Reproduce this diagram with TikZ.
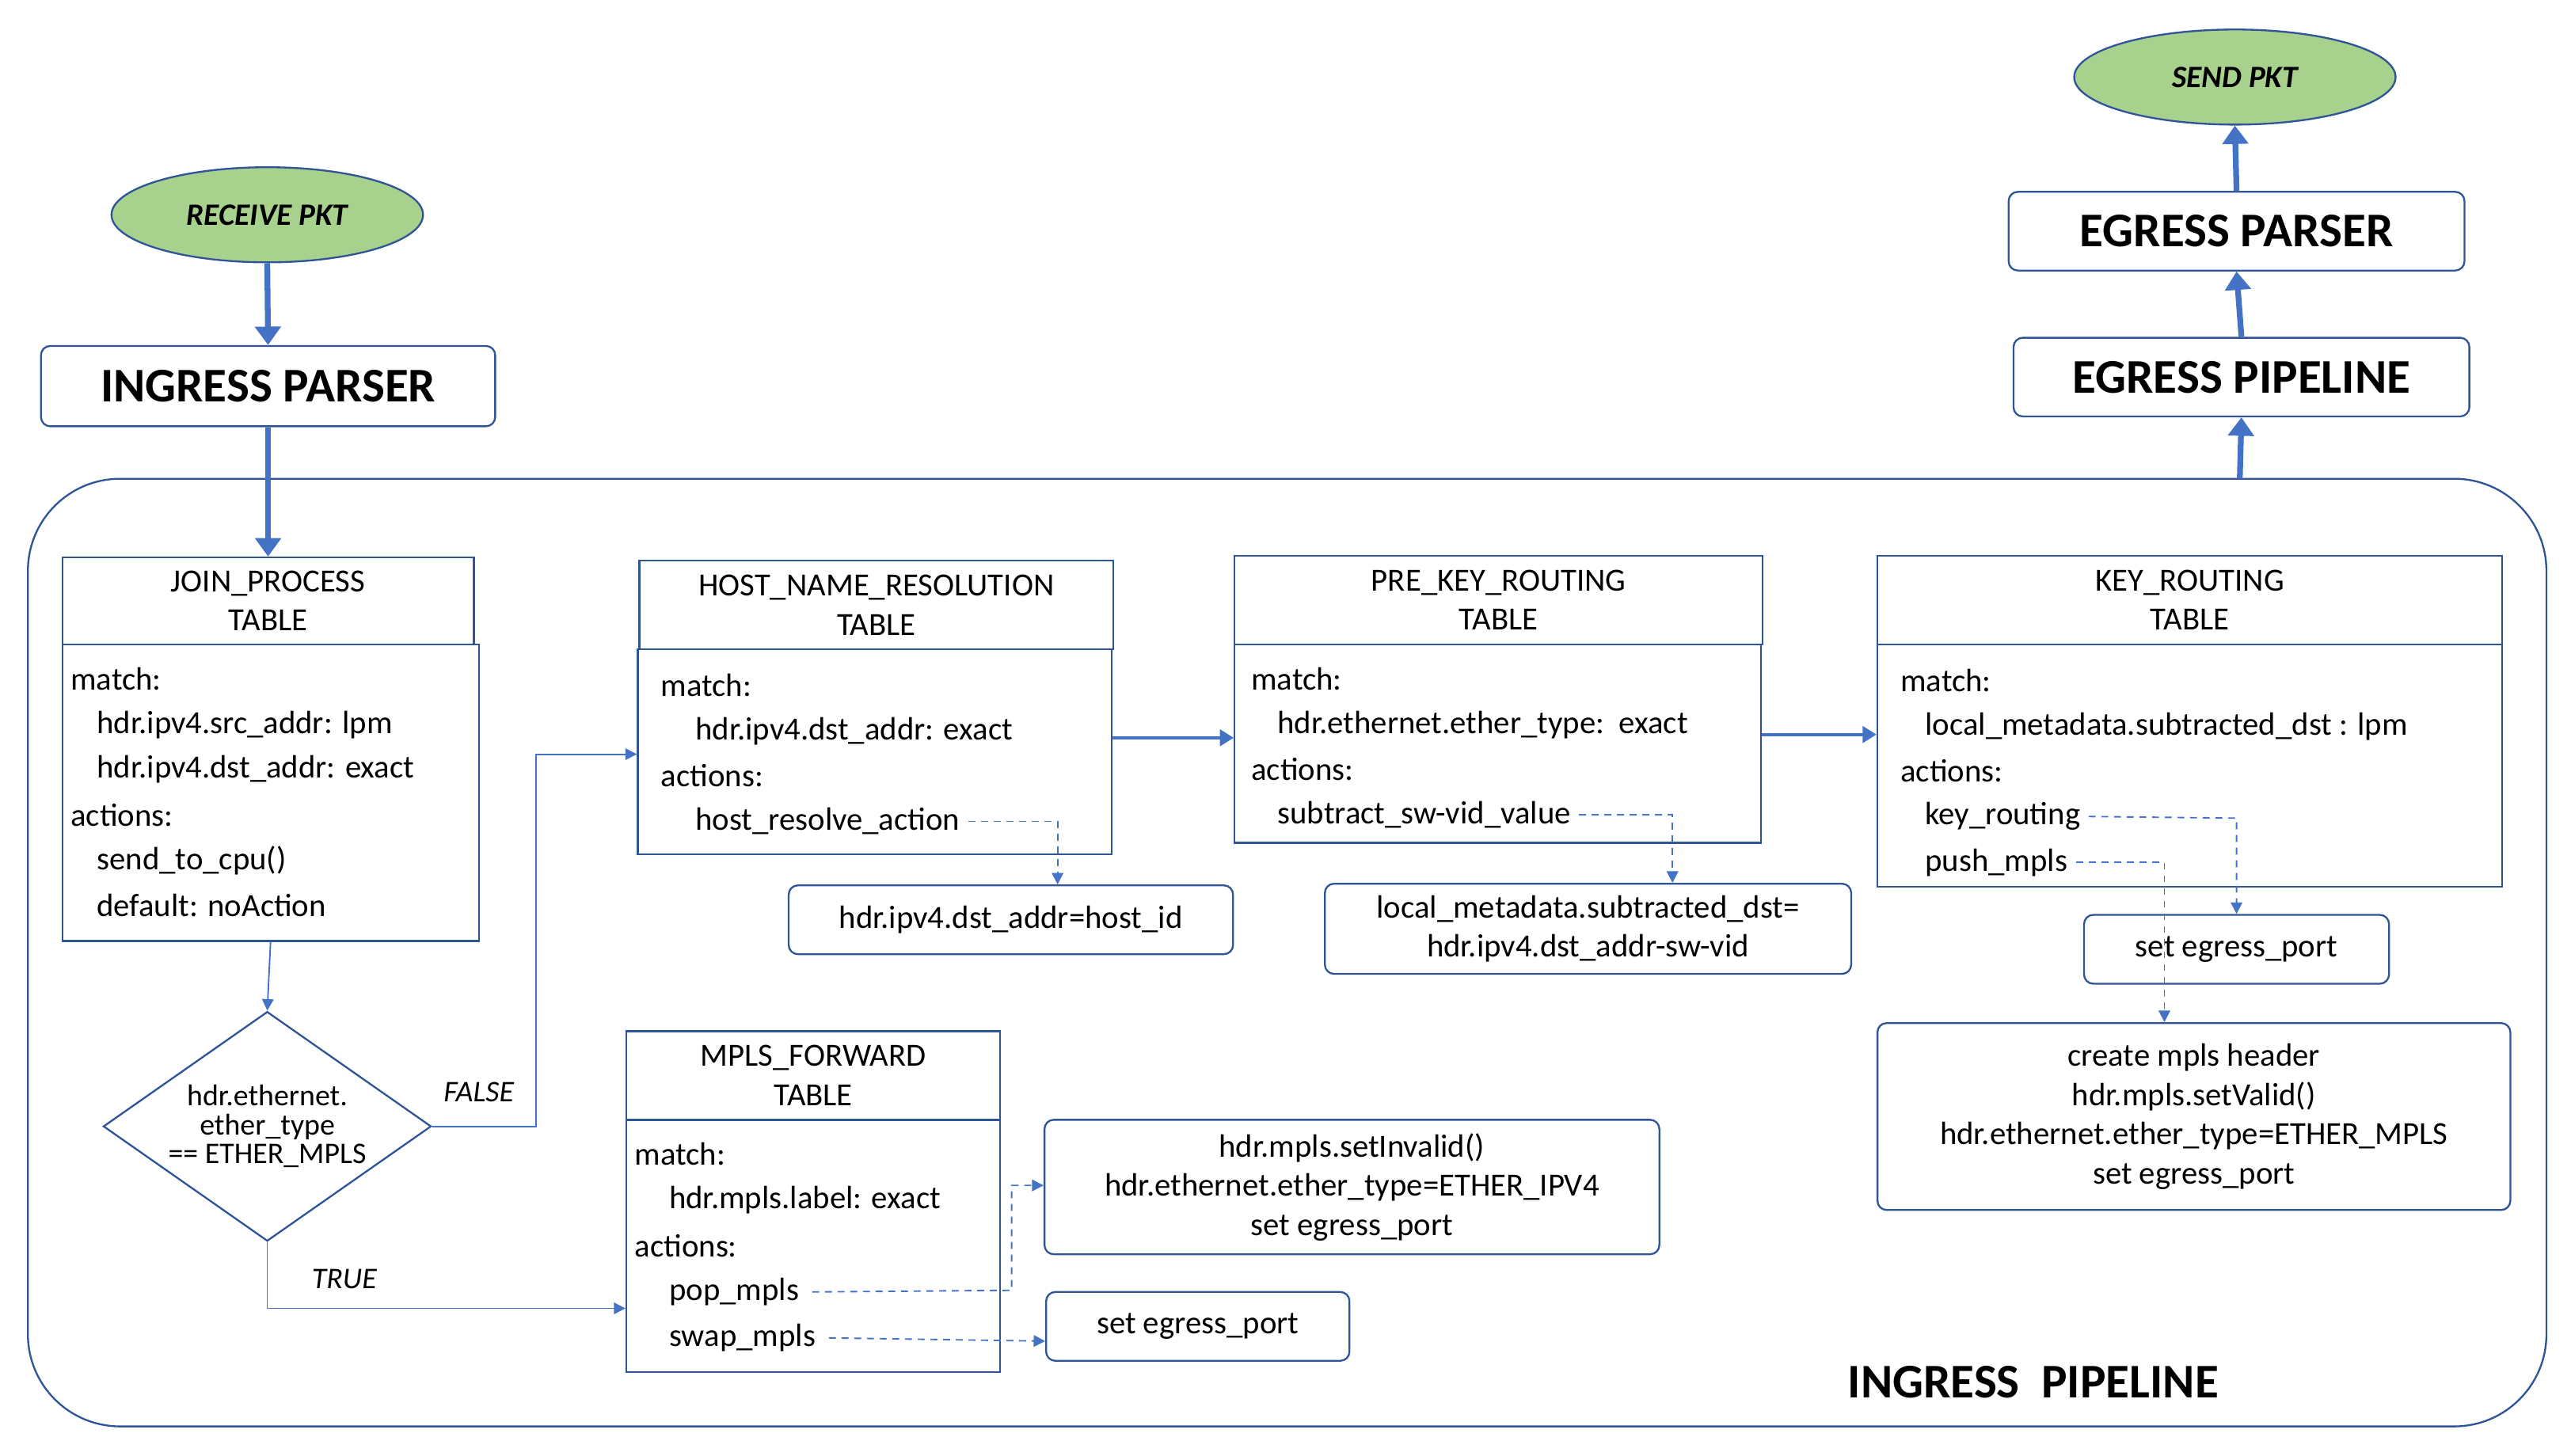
\documentclass[tikz,border=0pt]{standalone}
\usepackage{fontspec}
\setmainfont{Carlito}
\usetikzlibrary{shapes.geometric,arrows.meta}
\definecolor{bl}{HTML}{2F5597}
\definecolor{ar}{HTML}{4472C4}
\definecolor{gr}{HTML}{A9D18E}
\begin{document}
\begin{tikzpicture}[x=0.05cm,y=-0.05cm,
 txt/.style={font=\fontsize{28}{34}\selectfont,anchor=west,inner sep=0},
 big/.style={draw=bl,line width=1.6pt,rounded corners=8pt,font=\fontsize{42}{50}\selectfont\bfseries,inner sep=0},
 ell/.style={ellipse,draw=bl,line width=1.6pt,fill=gr,font=\fontsize{27}{32}\selectfont\bfseries\itshape,inner sep=0},
 box/.style={draw=bl,line width=1.6pt,inner sep=0},
 res/.style={draw=bl,line width=1.6pt,rounded corners=8pt,inner sep=0},
 ctr/.style={font=\fontsize{28}{34}\selectfont,align=center,inner sep=0},
 thick arr/.style={draw=ar,line width=5pt,-{Triangle[length=16pt,width=22pt]}},
 mid arr/.style={draw=ar,line width=3pt,-{Triangle[length=12pt,width=14pt]}},
 thin arr/.style={draw=ar,line width=1.3pt,-{Triangle[length=10pt,width=10pt]}},
 dash arr/.style={draw=ar,line width=1.3pt,dash pattern=on 6pt off 5pt,-{Triangle[length=10pt,width=10pt]}},
 lab/.style={font=\fontsize{26}{30}\selectfont\itshape,inner sep=0}]
\useasboundingbox (0,0) rectangle (1568,888);
% outer pipeline
\draw[draw=bl,line width=1.6pt,rounded corners=80pt] (17,292) rectangle (1553,870);
\node[font=\fontsize{42}{50}\selectfont\bfseries] (ip) at (1240,843) {INGRESS\ \ PIPELINE};
\coordinate (pipetop) at (1366,292);
% top nodes
\node[ell,minimum width=190*0.05cm,minimum height=58*0.05cm] (recv) at (163,131) {RECEIVE PKT};
\node[big,minimum width=277*0.05cm,minimum height=49*0.05cm] (ipar) at (163.5,235.5) {INGRESS PARSER};
\node[ell,minimum width=196*0.05cm,minimum height=58*0.05cm] (send) at (1363,47) {SEND PKT};
\node[big,minimum width=278*0.05cm,minimum height=48*0.05cm] (epar) at (1364,141) {EGRESS PARSER};
\node[big,minimum width=278*0.05cm,minimum height=48*0.05cm] (epip) at (1367,230) {EGRESS PIPELINE};
% JOIN
\node[box,minimum width=251*0.05cm,minimum height=53*0.05cm,ctr] (jh) at (163.5,366.5) {JOIN\_PROCESS\\TABLE};
\draw[bl,line width=1.6pt] (38,393) rectangle (292,574);
\node[box,draw=none,minimum width=254*0.05cm,minimum height=181*0.05cm] (jb) at (165,483.5) {};
\node[txt] at (43,414) {match:};
\node[txt] at (59,442) {hdr.ipv4.src\_addr: lpm};
\node[txt] at (59,469) {hdr.ipv4.dst\_addr: exact};
\node[txt] at (43,497) {actions:};
\node[txt] at (59,525) {send\_to\_cpu()};
\node[txt] at (59,552) {default: noAction};
% HOST
\node[box,minimum width=289*0.05cm,minimum height=54*0.05cm,ctr] (hh) at (534.5,369) {HOST\_NAME\_RESOLUTION\\TABLE};
\node[box,minimum width=289*0.05cm,minimum height=125*0.05cm] (hb) at (533.5,458.5) {};
\node[txt] at (403,418) {match:};
\node[txt] at (424,446) {hdr.ipv4.dst\_addr: exact};
\node[txt] at (403,473) {actions:};
\node[txt] (hra) at (424,501) {host\_resolve\_action};
% PRE KEY
\node[box,minimum width=322*0.05cm,minimum height=54*0.05cm,ctr] (ph) at (914,366) {PRE\_KEY\_ROUTING\\TABLE};
\node[box,minimum width=321*0.05cm,minimum height=121*0.05cm] (pb) at (913.5,453.5) {};
\node[txt] at (763,414) {match:};
\node[txt] at (779,442) {hdr.ethernet.ether\_type:\ \ exact};
\node[txt] at (763,469) {actions:};
\node[txt] (ssv) at (779,497) {subtract\_sw-vid\_value};
% KEY
\node[box,minimum width=381*0.05cm,minimum height=54*0.05cm,ctr] (kh) at (1335.5,366) {KEY\_ROUTING\\TABLE};
\node[box,minimum width=381*0.05cm,minimum height=148*0.05cm] (kb) at (1335.5,467) {};
\node[txt] at (1159,415) {match:};
\node[txt] at (1174,443) {local\_metadata.subtracted\_dst : lpm};
\node[txt] at (1159,470) {actions:};
\node[txt] (kr) at (1174,498) {key\_routing};
\node[txt] (pm) at (1174,526) {push\_mpls};
% MPLS
\node[box,minimum width=228*0.05cm,minimum height=54*0.05cm,ctr] (mh) at (496,656) {MPLS\_FORWARD\\TABLE};
\node[box,minimum width=228*0.05cm,minimum height=154*0.05cm] (mb) at (496,760) {};
\node[txt] at (387,704) {match:};
\node[txt] at (408,732) {hdr.mpls.label: exact};
\node[txt] at (387,760) {actions:};
\node[txt] (pop) at (408,788) {pop\_mpls};
\node[txt] (swp) at (408,816) {swap\_mpls};
% results
\node[res,minimum width=271*0.05cm,minimum height=42*0.05cm,ctr] (r1) at (616.5,561) {hdr.ipv4.dst\_addr=host\_id};
\node[res,minimum width=321*0.05cm,minimum height=55*0.05cm,ctr] (r2) at (968.5,566.5) {local\_metadata.subtracted\_dst=\\hdr.ipv4.dst\_addr-sw-vid};
\node[res,minimum width=186*0.05cm,minimum height=42*0.05cm,ctr] (r3) at (1364,579) {set egress\_port};
\node[res,minimum width=386*0.05cm,minimum height=114*0.05cm,ctr] (r4) at (1338,681) {create mpls header\\hdr.mpls.setValid()\\hdr.ethernet.ether\_type=ETHER\_MPLS\\set egress\_port};
\node[res,minimum width=375*0.05cm,minimum height=82*0.05cm,ctr] (r5) at (824.5,724) {hdr.mpls.setInvalid()\\hdr.ethernet.ether\_type=ETHER\_IPV4\\set egress\_port};
\node[res,minimum width=185*0.05cm,minimum height=42*0.05cm,ctr] (r6) at (730.5,809) {set egress\_port};
% diamond
\node[diamond,draw=bl,line width=1.6pt,minimum width=200*0.05cm,minimum height=140*0.05cm,inner sep=0] (dia) at (163,687) {};
\node[font=\fontsize{26}{25}\selectfont,align=center] at (dia) {hdr.ethernet.\\ether\_type\\== ETHER\_MPLS};
% arrows
\draw[thick arr] (recv.south) -- (ipar.north);
\draw[thick arr] (ipar.south) -- (jh.north);
\draw[thick arr] (pipetop) -- (epip.south);
\draw[thick arr] (epip.north) -- (epar.south);
\draw[thick arr] (epar.north) -- (send.south);
\draw[thin arr] (jb.south) -- (dia.north);
\draw[thin arr] (dia.east) -- (327,687) -- (327,460) -- (hb.west |- 0,460);
\node[lab] at (292,666) {FALSE};
\draw[thin arr] (dia.south) -- (163,798) -- (mb.west |- 0,798);
\node[lab] at (210,780) {TRUE};
\draw[mid arr] (hb.east |- 0,450) -- (pb.west |- 0,450);
\draw[mid arr] (pb.east |- 0,448) -- (kb.west |- 0,448);
\draw[dash arr] (hra.east) ++(5,0) -- (645,501) -- (r1.north -| 645,0);
\draw[dash arr] (ssv.east) ++(5,0) -- (1020,497) -- (r2.north -| 1020,0);
\draw[dash arr] (kr.east) ++(5,0) -- (1364,499) -- (r3.north);
\draw[dash arr] (pm.east) ++(5,0) -- (1320,526) -- (r4.north -| 1320,0);
\draw[dash arr] (pop.east) ++(8,0) -- (617,787) -- (617,723) -- (r5.west |- 0,723);
\draw[dash arr] (swp.east) ++(8,0) -- (r6.west |- 0,818);
\end{tikzpicture}
\end{document}
